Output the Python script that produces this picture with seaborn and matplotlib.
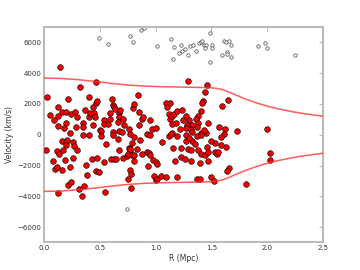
import numpy as np
import pandas as pd
import matplotlib
matplotlib.use("Agg")
import matplotlib.pyplot as plt
import seaborn as sns

# member galaxies (red)
member_r = [
    0.03, 0.146, 0.325, 0.47, 0.40, 0.22, 0.125, 0.16, 0.13, 0.20, 0.09, 0.13, 0.18, 0.20,
    0.24, 0.275, 0.30, 0.29, 0.35, 0.35, 0.37, 0.40, 0.41, 0.44, 0.45, 0.47, 0.48, 0.46,
    0.50, 0.51, 0.54, 0.54, 0.57, 0.59, 0.61, 0.62, 0.63, 0.64, 0.59, 0.67, 0.67, 0.68,
    0.66, 0.62, 0.67, 0.71, 0.72, 0.76, 0.80, 0.81, 0.84, 0.85, 0.85, 0.88, 0.89, 0.95,
    0.965, 1.00, 1.09, 1.10, 1.13, 1.12, 1.13, 1.15, 1.17, 1.19, 1.15, 1.18, 1.15,
    1.29, 1.46, 1.445, 1.645, 1.60, 1.425, 1.42, 1.41, 1.38, 1.365, 1.38, 1.37, 1.47,
    1.33, 1.30, 1.28, 1.27, 1.25, 1.32, 1.33, 1.41, 1.455, 1.62, 1.73, 2.00, 1.61, 1.27,
    0.015, 0.12, 0.135, 0.16, 0.17, 0.20, 0.21, 0.20, 0.26, 0.27, 0.30, 0.10, 0.12, 0.16,
    0.19, 0.23, 0.26, 0.215, 0.24, 0.13, 0.315, 0.36, 0.34, 0.38, 0.39, 0.43, 0.47, 0.48,
    0.49, 0.54, 0.55, 0.60, 0.63, 0.65, 0.67, 0.66, 0.71, 0.74, 0.76, 0.77, 0.77, 0.75,
    0.77, 0.78, 0.75, 0.78, 0.79, 0.81, 0.81, 0.79, 0.86, 0.88, 0.92, 0.94, 0.95, 0.93,
    0.98, 1.00, 1.01, 0.99, 1.00, 1.01, 1.05, 1.09, 1.155, 1.175, 1.19, 1.19,
    1.27, 1.33, 1.23, 1.29, 1.32, 1.38, 1.41, 1.44, 1.46, 1.47, 1.53, 1.55, 1.56, 1.59,
    1.63, 1.53, 1.59, 1.47, 1.40, 1.32, 1.23, 1.26, 1.66, 1.64, 1.50, 1.52, 1.37, 1.40,
    1.81, 2.03, 2.03,
    1.27, 1.30, 1.37, 1.41, 0.35, 0.40, 0.51, 0.62, 0.77, 0.81, 0.92, 0.95, 1.12, 1.14,
    0.08, 0.05, 0.23, 0.44, 0.56, 0.70, 0.83, 1.06, 1.22, 1.35, 1.50, 1.57, 1.24, 1.43,
]
member_v = [
    2420, 4410, 3070, 3420, 2440, 2290, 1810, 1490, 1210, 1470, 950, 580, 450, 780,
    1340, 1450, 1160, 470, 780, 500, 1600, 1160, 1380, 1810, 1420, 2030, 2200, 1160,
    300, 260, 950, 700, 700, 1010, 2290, 1930, 1820, 1700, 1380, 1420, 1120, 1600,
    800, 160, 240, 1000, 650, 350, 1740, 1970, 2610, 1490, 640, 1010, 1140, 950,
    350, 450, 2030, 1770, 2090, 1340, 1010, 1210, 1340, 1560, 700, 780, 130,
    3460, 3200, 2790, 2270, 1860, 2180, 2050, 1530, 1230, 1010, 780, 520, 780,
    650, 930, 650, 430, 930, 300, 200, 90, 90, 350, 260, 350, 30, 1210,
    -960, -1060, -1260, -390, -960, -450, -330, -650, -500, -710, -960, -2230, -2080, -2320,
    -1670, -2100, -1540, -3270, -3060, -3810, -3550, -3310, -3970, -1990, -2600, -1560, -2340, -1520,
    -2430, -1800, -3750, -1580, -1580, -1580, -1020, -300, -1490, -1380, -890, -1040, -930, -1230,
    -2300, -2560, -2860, -3490, -1300, -1300, -1730, -560, -330, -1240, -1130, -1180, -1300, -2030,
    -1650, -1800, -1930, -2710, -2950, -2860, -2670, -2770, -830, -1730, -2770, -100,
    -390, -390, -850, -940, -1010, -990, -1230, -1300, -820, -1120, -1120, -1270, -1120, -690,
    -820, -560, -130, -1690, -1820, -1720, -1430, -1590, -2140, -2380, -2730, -3010, -2860, -2900,
    -3190, -1180, -1670,
    0, -200, -100, -50, 0, 0, -100, -50, 30, -170, 20, -40, -60, 40,
    -1700, 1300, 100, 600, -600, 200, -900, -500, 400, -600, -400, 500, 1600, 300,
]

# interlopers (open circles)
interloper_r = [
    0.49, 0.57, 0.77, 0.80, 0.87, 0.90, 1.01, 1.14, 1.17, 1.21, 1.16, 1.23, 1.24, 1.26,
    1.29, 1.31, 1.34, 1.36, 1.39, 1.41, 1.415, 1.43, 1.45, 1.44, 1.49, 1.51, 1.51, 1.49,
    1.61, 1.63, 1.66, 1.68, 1.60, 1.64, 1.64, 1.675, 1.915, 1.98, 2.00, 2.25, 0.74,
]
interloper_v = [
    6300, 5900, 6400, 6000, 6790, 6950, 5740, 6250, 5670, 5340, 4950, 5860, 5450, 5540,
    5150, 5770, 5800, 5410, 5930, 6020, 6100, 5860, 5830, 5620, 6610, 5830, 5610, 4730,
    6100, 6030, 6100, 5830, 5150, 5380, 5230, 5060, 5740, 5980, 5610, 5170, -4850,
]

# caustic amplitude
caustic_r = [0.0, 0.15, 0.3, 0.45, 0.6, 0.75, 0.9, 1.05, 1.2, 1.35, 1.5, 1.55, 1.6,
             1.65, 1.7, 1.8, 1.9, 2.0, 2.1, 2.2, 2.3, 2.4, 2.5]
caustic_v = [3680, 3660, 3580, 3470, 3340, 3230, 3160, 3120, 3100, 3080, 3050, 3010, 2930,
             2800, 2640, 2340, 2080, 1860, 1680, 1530, 1400, 1300, 1210]

members = pd.DataFrame({"R": member_r, "V": member_v})
interlopers = pd.DataFrame({"R": interloper_r, "V": interloper_v})
caustic = pd.DataFrame({"R": caustic_r, "up": caustic_v,
                        "down": [-v for v in caustic_v]})

sns.set_style("white")
plt.rcParams["font.family"] = ["DejaVu Sans"]

fig = plt.figure(figsize=(3.6, 2.7), dpi=100)
ax = fig.add_axes([0.122, 0.102, 0.775, 0.798])

sns.scatterplot(data=interlopers, x="R", y="V", ax=ax, s=6, color="white",
                edgecolor="#444444", linewidth=0.5, zorder=2)
sns.scatterplot(data=members, x="R", y="V", ax=ax, s=17, color="#ee0000",
                edgecolor="black", linewidth=0.4, zorder=3)
sns.lineplot(data=caustic, x="R", y="up", ax=ax, color="#ff3333", alpha=0.8,
             linewidth=1.1, zorder=4)
sns.lineplot(data=caustic, x="R", y="down", ax=ax, color="#ff3333", alpha=0.8,
             linewidth=1.1, zorder=4)

ax.set_xlim(0, 2.5)
ax.set_ylim(-7000, 7000)
ax.set_xticks([0.0, 0.5, 1.0, 1.5, 2.0, 2.5])
ax.set_yticks([-6000, -4000, -2000, 0, 2000, 4000, 6000])
ax.set_xticklabels(["0.0", "0.5", "1.0", "1.5", "2.0", "2.5"])
ax.set_xlabel("R (Mpc)", fontsize=5.5, color="#333333", labelpad=2)
ax.set_ylabel("Velocity (km/s)", fontsize=5.5, color="#333333", labelpad=2)
ax.tick_params(direction="in", length=3, width=0.6, colors="#aaaaaa",
               labelcolor="#333333", labelsize=5, top=True, right=True, pad=2)
for sp in ax.spines.values():
    sp.set_color("#bbbbbb")
    sp.set_linewidth(1.5)

fig.savefig("out.png", dpi=100)
